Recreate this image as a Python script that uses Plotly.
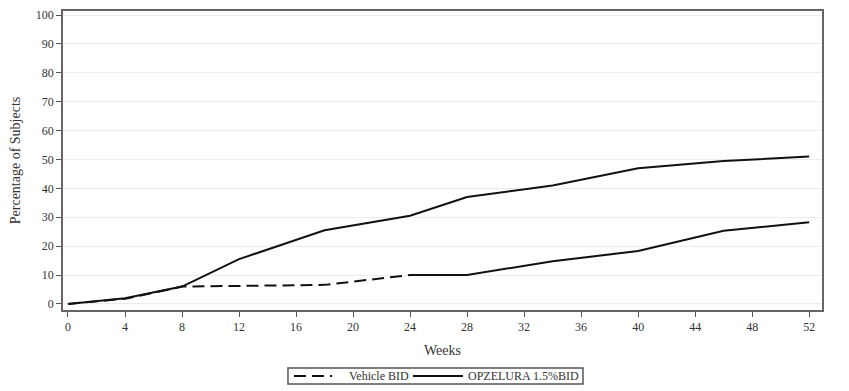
import plotly.graph_objects as go

weeks_opz = [0, 4, 8, 12, 18, 24, 28, 34, 40, 46, 52]
opz_vals = [0, 2.0, 6.0, 15.5, 25.5, 30.5, 37.0, 41.0, 47.0, 49.5, 51.0]

weeks_veh = [0, 4, 8, 12, 18, 24]
veh_vals = [0, 1.8, 6.0, 6.3, 6.6, 10.0]

weeks_cross = [24, 28, 34, 40, 46, 52]
cross_vals = [10.0, 10.0, 14.8, 18.3, 25.3, 28.3]

x_ticks = list(range(0, 53, 4))
y_ticks = list(range(0, 101, 10))

DASH = "12px,6px"
SERIF = "Liberation Serif"

fig = go.Figure()
fig.add_trace(go.Scatter(x=weeks_veh, y=veh_vals, mode="lines", name="Vehicle BID",
                         line=dict(color="#111", width=2, dash=DASH)))
fig.add_trace(go.Scatter(x=weeks_opz, y=opz_vals, mode="lines", name="OPZELURA 1.5%BID",
                         line=dict(color="#111", width=2), legendgroup="opz"))
fig.add_trace(go.Scatter(x=weeks_cross, y=cross_vals, mode="lines", name="OPZELURA 1.5%BID",
                         line=dict(color="#111", width=2), legendgroup="opz", showlegend=False))

axis_common = dict(showline=True, linecolor="#666", linewidth=1.5, mirror=True,
                   ticks="outside", ticklen=5, tickcolor="#555", zeroline=False,
                   tickfont=dict(family=SERIF, size=12, color="#333"))

fig.update_xaxes(range=[-0.35, 52.9], tickvals=x_ticks, showgrid=False,
                 title=dict(text="Weeks", font=dict(family=SERIF, size=14, color="#333"), standoff=12),
                 **axis_common)
fig.update_yaxes(range=[-2.1, 101.4], tickvals=y_ticks, showgrid=True, gridcolor="#ececec", gridwidth=1,
                 title=dict(text="Percentage of Subjects", font=dict(family=SERIF, size=14, color="#333"), standoff=12),
                 **axis_common)

# Manual boxed legend below the plot (paper coordinates)
ly = -0.2207
shapes = [
    dict(type="rect", xref="paper", yref="paper", x0=0.2964, x1=0.6851, y0=-0.2475, y1=-0.194,
         line=dict(color="#555", width=1.5), fillcolor="white"),
    dict(type="line", xref="paper", yref="paper", x0=0.3043, x1=0.3544, y0=ly, y1=ly,
         line=dict(color="#111", width=2, dash=DASH)),
    dict(type="line", xref="paper", yref="paper", x0=0.4611, x1=0.5270, y0=ly, y1=ly,
         line=dict(color="#111", width=2)),
]
annotations = [
    dict(xref="paper", yref="paper", x=0.3742, y=ly, xanchor="left", yanchor="middle",
         text="Vehicle BID", showarrow=False, font=dict(family=SERIF, size=12, color="#333")),
    dict(xref="paper", yref="paper", x=0.531, y=ly, xanchor="left", yanchor="middle",
         text="OPZELURA 1.5%BID", showarrow=False, font=dict(family=SERIF, size=12, color="#333")),
]

fig.update_layout(
    width=849, height=391,
    margin=dict(l=63, r=27, t=11, b=81, autoexpand=False),
    plot_bgcolor="white", paper_bgcolor="white",
    font=dict(family=SERIF, color="#333"),
    showlegend=False,
    shapes=shapes,
    annotations=annotations,
)

fig.write_html("out.html")
